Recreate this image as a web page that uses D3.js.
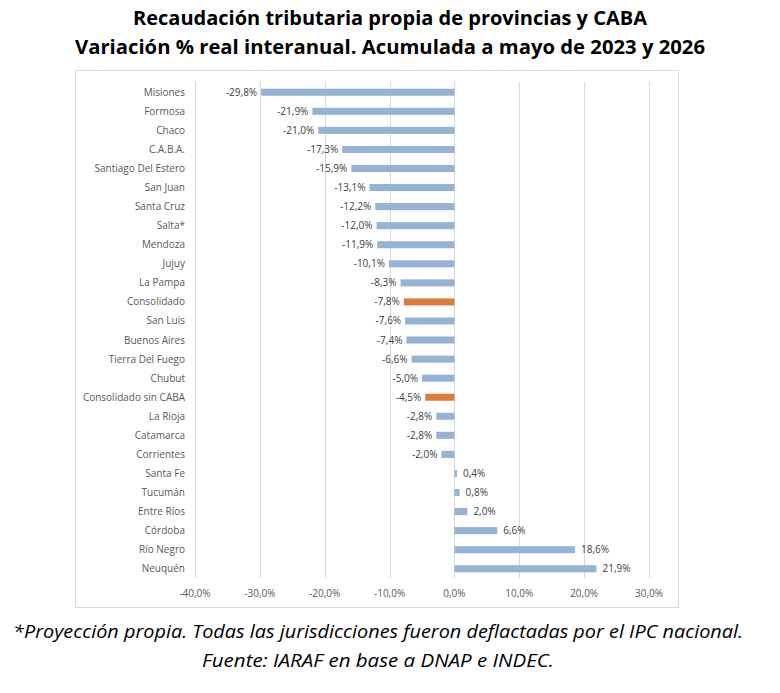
<!DOCTYPE html>
<html>
<head>
<meta charset="utf-8">
<script src="https://cdn.jsdelivr.net/npm/d3@7"></script>
<style>
  body { margin: 0; background: #fff; }
  svg text { font-family: "Open Sans", "Noto Sans", sans-serif; }
</style>
</head>
<body>
<svg id="chart" width="780" height="693"></svg>
<script>
const provinces = ["Misiones", "Formosa", "Chaco", "C.A.B.A.", "Santiago Del Estero", "San Juan",
  "Santa Cruz", "Salta*", "Mendoza", "Jujuy", "La Pampa", "Consolidado", "San Luis",
  "Buenos Aires", "Tierra Del Fuego", "Chubut", "Consolidado sin CABA", "La Rioja",
  "Catamarca", "Corrientes", "Santa Fe", "Tucumán", "Entre Ríos", "Córdoba", "Río Negro", "Neuquén"];
const variation = [-29.8, -21.9, -21.0, -17.3, -15.9, -13.1, -12.2, -12.0, -11.9, -10.1, -8.3, -7.8,
  -7.6, -7.4, -6.6, -5.0, -4.5, -2.8, -2.8, -2.0, 0.4, 0.8, 2.0, 6.6, 18.6, 21.9];
const highlighted = ["Consolidado", "Consolidado sin CABA"];
const xTicks = [-40, -30, -20, -10, 0, 10, 20, 30];

const titleLines = ["Recaudación tributaria propia de provincias y CABA",
  "Variación % real interanual. Acumulada a mayo de 2023 y 2026"];
const noteLines = ["*Proyección propia. Todas las jurisdicciones fueron deflactadas por el IPC nacional.",
  "Fuente: IARAF en base a DNAP e INDEC."];

const svg = d3.select("#chart");
const fmt = v => d3.format(".1f")(v).replace("−", "-").replace(".", ",") + "%";

const data = provinces.map((p, i) => ({ name: p, value: variation[i] }));

// chart frame
svg.append("rect")
  .attr("x", 75.5).attr("y", 70.5)
  .attr("width", 603).attr("height", 537)
  .attr("fill", "#fff").attr("stroke", "#d9d9d9");

const x = d3.scaleLinear().domain([-40, 30]).range([195, 649]);
const y = d3.scaleBand().domain(provinces).range([83, 578]).paddingInner(0.63).paddingOuter(0.3);

// gridlines
svg.append("g")
  .selectAll("line")
  .data(xTicks)
  .enter()
  .append("line")
  .attr("x1", d => Math.round(x(d)) + 0.5)
  .attr("x2", d => Math.round(x(d)) + 0.5)
  .attr("y1", 82)
  .attr("y2", 578)
  .attr("stroke", "#d9d9d9");

// bars
svg.append("g")
  .selectAll("rect")
  .data(data)
  .enter()
  .append("rect")
  .attr("x", d => x(Math.min(0, d.value)))
  .attr("width", d => Math.abs(x(d.value) - x(0)))
  .attr("y", d => y(d.name))
  .attr("height", y.bandwidth())
  .attr("fill", d => highlighted.includes(d.name) ? "#dd7b3f" : "#95b3d4");

// value labels
svg.append("g")
  .selectAll("text")
  .data(data)
  .enter()
  .append("text")
  .attr("x", d => d.value < 0 ? x(d.value) - 4 : x(d.value) + 6)
  .attr("y", d => y(d.name) + y.bandwidth() / 2)
  .attr("dy", "0.35em")
  .attr("text-anchor", d => d.value < 0 ? "end" : "start")
  .attr("font-size", "10px")
  .attr("fill", "#404040")
  .text(d => fmt(d.value));

// category labels
svg.append("g")
  .selectAll("text")
  .data(data)
  .enter()
  .append("text")
  .attr("x", 185)
  .attr("y", d => y(d.name) + y.bandwidth() / 2)
  .attr("dy", "0.35em")
  .attr("text-anchor", "end")
  .attr("font-size", "10px")
  .attr("fill", "#595959")
  .text(d => d.name);

// x axis labels
svg.append("g")
  .selectAll("text")
  .data(xTicks)
  .enter()
  .append("text")
  .attr("x", d => x(d))
  .attr("y", 593)
  .attr("dy", "0.35em")
  .attr("text-anchor", "middle")
  .attr("font-size", "10px")
  .attr("fill", "#595959")
  .text(d => fmt(d));

// title
svg.append("g")
  .selectAll("text")
  .data(titleLines)
  .enter()
  .append("text")
  .attr("x", 390)
  .attr("y", (d, i) => 25 + i * 29)
  .attr("text-anchor", "middle")
  .attr("font-size", "19px")
  .attr("font-weight", "bold")
  .attr("fill", "#000")
  .attr("textLength", (d, i) => i === 0 ? 514 : 630)
  .attr("lengthAdjust", "spacingAndGlyphs")
  .text(d => d);

// footnote
svg.append("g")
  .selectAll("text")
  .data(noteLines)
  .enter()
  .append("text")
  .attr("x", 378)
  .attr("y", (d, i) => 638 + i * 29)
  .attr("text-anchor", "middle")
  .attr("font-size", "18px")
  .attr("font-style", "italic")
  .attr("fill", "#000")
  .attr("textLength", (d, i) => i === 0 ? 730 : 352)
  .attr("lengthAdjust", "spacingAndGlyphs")
  .text(d => d);
</script>
</body>
</html>
